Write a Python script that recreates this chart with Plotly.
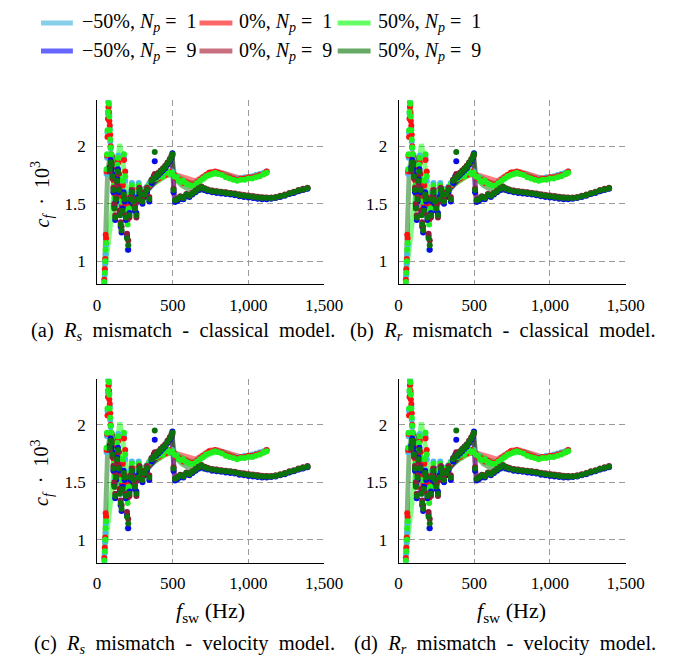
import plotly.graph_objects as go

# ---------------- data ----------------
# dots, N_p = 1 (upper branch)
x_np1 = [48, 51, 54, 57, 60, 63, 66, 69, 72, 75, 78, 81, 84, 87, 90, 94, 98,
         104, 110, 116, 122, 128, 134, 140, 146, 152, 158, 164, 170, 178, 186, 194, 202, 210, 220, 230, 240, 250, 262, 275, 288, 300,
         315, 330, 345, 360, 375, 390, 405, 420, 435, 450, 465, 480, 495,
         510, 525, 540, 555, 570, 585, 600, 620, 640, 660, 680, 700, 720, 740, 760, 780, 800, 825, 850, 875, 900, 925, 950, 975, 1000, 1025, 1050, 1075, 1100, 1120]
y_m50_np1 = [0.80, 0.88, 0.98, 1.06, 1.14, 1.76, 1.90, 2.12, 2.28, 2.39, 2.35, 2.28, 2.16, 2.04, 1.98, 1.90, 1.86,
             1.76, 1.64, 1.52, 1.50, 1.64, 1.82, 1.92, 1.70, 1.50, 1.40, 1.54, 1.68, 1.90, 1.70, 1.40, 1.10, 1.44, 1.60, 1.68, 1.54, 1.52, 1.62, 1.68, 1.60, 1.62,
             1.63, 1.65, 1.68, 1.71, 1.73, 1.73, 1.74, 1.75, 1.75, 1.76, 1.77, 1.77, 1.78,
             1.75, 1.74, 1.71, 1.70, 1.69, 1.68, 1.68, 1.67, 1.67, 1.69, 1.71, 1.73, 1.75, 1.76, 1.77, 1.77, 1.77, 1.76, 1.74, 1.73, 1.72, 1.72, 1.72, 1.73, 1.73, 1.74, 1.75, 1.76, 1.77, 1.78]
y_0_np1 = [0.84, 0.93, 1.02, 1.23, 1.20, 1.78, 1.92, 2.08, 2.24, 2.34, 2.30, 2.22, 2.18, 2.10, 2.00, 1.92, 1.85,
           1.80, 1.70, 1.58, 1.46, 1.58, 1.80, 1.86, 1.76, 1.56, 1.45, 1.48, 1.66, 1.88, 1.78, 1.50, 1.36, 1.42, 1.55, 1.63, 1.58, 1.48, 1.56, 1.64, 1.60, 1.58,
           1.60, 1.63, 1.66, 1.69, 1.72, 1.74, 1.72, 1.75, 1.76, 1.75, 1.77, 1.78, 1.76,
           1.75, 1.72, 1.71, 1.70, 1.68, 1.69, 1.68, 1.67, 1.67, 1.69, 1.71, 1.73, 1.75, 1.77, 1.77, 1.78, 1.77, 1.76, 1.74, 1.73, 1.72, 1.71, 1.72, 1.72, 1.73, 1.73, 1.74, 1.75, 1.76, 1.78]
y_p50_np1 = [0.82, 0.90, 1.00, 1.10, 1.16, 1.80, 1.93, 2.14, 2.30, 2.38, 2.37, 2.26, 2.14, 2.06, 1.99, 1.93, 1.88,
             1.78, 1.66, 1.55, 1.48, 1.62, 1.84, 1.90, 1.72, 1.52, 1.42, 1.52, 1.70, 1.93, 1.74, 1.44, 1.32, 1.46, 1.58, 1.66, 1.56, 1.50, 1.60, 1.66, 1.62, 1.60,
             1.62, 1.64, 1.67, 1.70, 1.74, 1.72, 1.73, 1.76, 1.74, 1.77, 1.78, 1.76, 1.77,
             1.74, 1.73, 1.70, 1.69, 1.70, 1.68, 1.67, 1.66, 1.66, 1.68, 1.70, 1.72, 1.74, 1.75, 1.76, 1.77, 1.76, 1.75, 1.73, 1.72, 1.71, 1.70, 1.71, 1.71, 1.72, 1.72, 1.73, 1.74, 1.76, 1.77]

# dots, N_p = 9 (lower branch)
x_np9 = [84, 90, 96, 102, 108, 114, 120, 126, 132, 138, 144, 150, 156, 162, 168, 175, 182, 190, 198, 206, 214, 222, 230, 240, 250, 260, 270, 280, 290, 300,
         315, 330, 345, 360, 375, 381, 390, 405, 420, 435, 450, 465, 480, 492, 498,
         505, 515, 530, 550, 570, 590, 610, 630, 650, 670, 690, 710, 730, 760, 790, 820, 850, 880, 910, 940, 970, 1000, 1030, 1060, 1090, 1120, 1150, 1180, 1210, 1240, 1270, 1300, 1330, 1360, 1390]
y_m50_np9 = [1.82, 1.88, 1.80, 1.76, 1.60, 1.48, 1.36, 1.52, 1.72, 1.80, 1.60, 1.42, 1.30, 1.25, 1.46, 1.60, 1.52, 1.36, 1.22, 1.10, 1.42, 1.52, 1.58, 1.50, 1.44, 1.42, 1.56, 1.60, 1.56, 1.50,
             1.56, 1.60, 1.52, 1.68, 1.74, 1.87, 1.73, 1.75, 1.77, 1.79, 1.81, 1.84, 1.87, 1.90, 1.94,
             1.60, 1.515, 1.525, 1.545, 1.54, 1.57, 1.56, 1.58, 1.60, 1.62, 1.635, 1.62, 1.61, 1.60, 1.595, 1.59, 1.585, 1.58, 1.575, 1.565, 1.56, 1.555, 1.55, 1.545, 1.54, 1.54, 1.545, 1.55, 1.56, 1.57, 1.585, 1.595, 1.61, 1.62, 1.63]
y_0_np9 = [1.78, 1.84, 1.86, 1.72, 1.64, 1.50, 1.40, 1.56, 1.68, 1.76, 1.64, 1.44, 1.34, 1.30, 1.42, 1.56, 1.56, 1.40, 1.24, 1.18, 1.38, 1.56, 1.62, 1.54, 1.48, 1.38, 1.52, 1.64, 1.60, 1.54,
           1.60, 1.64, 1.56, 1.71, 1.73, 1.76, 1.75, 1.77, 1.79, 1.81, 1.83, 1.86, 1.89, 1.92, 1.92,
           1.63, 1.535, 1.545, 1.565, 1.56, 1.585, 1.575, 1.595, 1.615, 1.635, 1.65, 1.635, 1.625, 1.615, 1.61, 1.605, 1.60, 1.595, 1.59, 1.58, 1.575, 1.57, 1.565, 1.56, 1.555, 1.555, 1.555, 1.56, 1.57, 1.58, 1.595, 1.605, 1.62, 1.63, 1.64]
y_p50_np9 = [1.80, 1.86, 1.84, 1.74, 1.62, 1.46, 1.38, 1.54, 1.70, 1.78, 1.62, 1.40, 1.32, 1.27, 1.44, 1.58, 1.54, 1.38, 1.20, 1.14, 1.40, 1.54, 1.60, 1.52, 1.46, 1.40, 1.54, 1.62, 1.58, 1.52,
             1.58, 1.62, 1.54, 1.70, 1.72, 1.95, 1.74, 1.76, 1.78, 1.80, 1.82, 1.85, 1.88, 1.91, 1.93,
             1.62, 1.53, 1.54, 1.56, 1.55, 1.58, 1.57, 1.59, 1.61, 1.63, 1.645, 1.63, 1.62, 1.61, 1.605, 1.60, 1.595, 1.59, 1.585, 1.575, 1.57, 1.565, 1.56, 1.555, 1.55, 1.55, 1.55, 1.555, 1.565, 1.575, 1.59, 1.60, 1.615, 1.625, 1.635]

# smoothed (translucent) lines
xl_np1 = [45, 50, 55, 60, 65, 70, 80, 95, 110, 130, 150, 175, 200, 230, 260, 300, 350, 400, 450, 500, 550, 600, 650, 700, 750, 800, 850, 900, 950, 1000, 1050, 1100, 1125]
yl_m50_np1 = [None, None, None, None, None, None, 1.95, 1.92, 1.80, 1.66, 1.60, 1.62, 1.55, 1.52, 1.55, 1.60, 1.66, 1.71, 1.75, 1.76, 1.73, 1.69, 1.68, 1.72, 1.76, 1.77, 1.76, 1.73, 1.72, 1.73, 1.74, 1.76, 1.78]
yl_0_np1 = [None, None, None, None, None, None, 1.96, 1.94, 1.83, 1.68, 1.60, 1.60, 1.53, 1.50, 1.54, 1.59, 1.65, 1.70, 1.74, 1.76, 1.74, 1.71, 1.70, 1.74, 1.78, 1.78, 1.76, 1.73, 1.72, 1.73, 1.74, 1.76, 1.77]
yl_p50_np1 = [0.83, 0.89, 0.94, 1.00, 1.06, 1.11, 1.23, 1.40, 1.57, 1.79, 2.02, 1.82, 1.58, 1.50, 1.53, 1.58, 1.65, 1.70, 1.74, 1.76, 1.72, 1.68, 1.67, 1.71, 1.75, 1.76, 1.75, 1.72, 1.71, 1.72, 1.73, 1.75, 1.77]
xl_np9 = [48, 55, 62, 70, 85, 100, 120, 140, 160, 180, 200, 230, 260, 300, 350, 400, 450, 495, 510, 530, 560, 600, 650, 700, 750, 800, 850, 900, 950, 1000, 1050, 1100, 1150, 1200, 1250, 1300, 1350, 1390]
yl_m50_np9 = [None, None, None, None, 1.85, 1.90, 1.75, 1.62, 1.50, 1.46, 1.45, 1.47, 1.50, 1.56, 1.64, 1.72, 1.80, 1.90, 1.56, 1.53, 1.54, 1.57, 1.60, 1.63, 1.61, 1.60, 1.595, 1.59, 1.575, 1.565, 1.555, 1.545, 1.545, 1.555, 1.575, 1.595, 1.615, 1.63]
yl_0_np9 = [None, None, None, None, 1.87, 1.92, 1.78, 1.64, 1.52, 1.47, 1.46, 1.48, 1.51, 1.57, 1.65, 1.73, 1.81, 1.91, 1.58, 1.54, 1.55, 1.58, 1.61, 1.64, 1.62, 1.61, 1.60, 1.595, 1.58, 1.57, 1.56, 1.55, 1.55, 1.56, 1.58, 1.60, 1.62, 1.635]
yl_p50_np9 = [0.85, 1.10, 1.45, 1.78, 1.90, 1.93, 1.86, 1.72, 1.58, 1.50, 1.47, 1.48, 1.51, 1.57, 1.65, 1.73, 1.81, 1.91, 1.75, 1.70, 1.66, 1.63, 1.62, 1.62, 1.61, 1.60, 1.60, 1.595, 1.58, 1.57, 1.56, 1.55, 1.55, 1.56, 1.58, 1.60, 1.62, 1.635]

NB = "&nbsp;"
series_labels = ["−50%," + NB + "<i>N<sub>p</sub></i>" + NB + "=" + NB + NB + "1",
                 "0%," + NB + "<i>N<sub>p</sub></i>" + NB + "=" + NB + NB + "1",
                 "50%," + NB + "<i>N<sub>p</sub></i>" + NB + "=" + NB + NB + "1",
                 "−50%," + NB + "<i>N<sub>p</sub></i>" + NB + "=" + NB + NB + "9",
                 "0%," + NB + "<i>N<sub>p</sub></i>" + NB + "=" + NB + NB + "9",
                 "50%," + NB + "<i>N<sub>p</sub></i>" + NB + "=" + NB + NB + "9"]
x_ticks = [0, 500, 1000, 1500]
x_ticktext = ["0", "500", "1,000", "1,500"]
y_ticks = [1, 1.5, 2]
y_ticktext = ["1", "1.5", "2"]
G = NB + NB
captions = ["(a)" + G + "<i>R<sub>s</sub></i>" + G + "mismatch" + G + "-" + G + "classical" + G + "model.",
            "(b)" + G + "<i>R<sub>r</sub></i>" + G + "mismatch" + G + "-" + G + "classical" + G + "model.",
            "(c)" + G + "<i>R<sub>s</sub></i>" + G + "mismatch" + G + "-" + G + "velocity" + G + "model.",
            "(d)" + G + "<i>R<sub>r</sub></i>" + G + "mismatch" + G + "-" + G + "velocity" + G + "model."]

# ---------------- styling ----------------
W, H = 686, 658
FONT = "Liberation Serif, Times New Roman, DejaVu Serif, serif"
line_colors = ["#37ADDE", "#FF0000", "#00FF00", "#0000FF", "#A30D26", "#007100"]
dot_colors = ["#4DB8EA", "#FF1010", "#1EF01E", "#0A0AE6", "#8E1A3C", "#0B720B"]
legend_colors = ["#87CEEB", "#FF6666", "#66FF66", "#6666FF", "#C87080", "#66AA66"]

lines = [(xl_np1, yl_m50_np1), (xl_np1, yl_0_np1), (xl_np1, yl_p50_np1),
         (xl_np9, yl_m50_np9), (xl_np9, yl_0_np9), (xl_np9, yl_p50_np9)]
dots = [(x_np1, y_m50_np1), (x_np1, y_0_np1), (x_np1, y_p50_np1),
        (x_np9, y_m50_np9), (x_np9, y_0_np9), (x_np9, y_p50_np9)]

def fx(p):
    return p / W

def fy(p):
    return 1 - p / H

# panel pixel boxes: (left, right, top, bottom)
boxes = [(88, 323, 92.3, 276.3), (400, 635, 92.3, 276.3),
         (88, 323, 370.7, 554.7), (400, 635, 370.7, 554.7)]

fig = go.Figure()
layout = dict(width=W, height=H, margin=dict(l=0, r=0, t=0, b=0),
              paper_bgcolor="white", plot_bgcolor="white", showlegend=False,
              font=dict(family=FONT, color="black"))

for i, (l, r, t, b) in enumerate(boxes):
    n = "" if i == 0 else str(i + 1)
    xa, ya = "x" + n, "y" + n
    layout["xaxis" + n] = dict(domain=[fx(l), fx(r)], range=[0, 1500], anchor=ya,
                               showline=True, linecolor="black", linewidth=1, mirror=False,
                               tickvals=x_ticks, ticktext=x_ticktext, ticks="",
                               showgrid=True, gridcolor="#9a9a9a", gridwidth=1, griddash="6px,4px",
                               zeroline=False, tickfont=dict(size=17, family=FONT),
                               ticklabelstandoff=5)
    layout["yaxis" + n] = dict(domain=[fy(b), fy(t)], range=[0.8, 2.4], anchor=xa,
                               showline=True, linecolor="black", linewidth=1, mirror=False,
                               tickvals=y_ticks, ticktext=y_ticktext, ticks="",
                               showgrid=True, gridcolor="#9a9a9a", gridwidth=1, griddash="6px,4px",
                               zeroline=False, tickfont=dict(size=17, family=FONT),
                               ticklabelstandoff=7)
    for k, (lx, ly) in enumerate(lines):
        fig.add_trace(go.Scatter(x=lx, y=ly, mode="lines", xaxis=xa, yaxis=ya,
                                 line=dict(color=line_colors[k], width=5),
                                 opacity=0.5, hoverinfo="skip"))
    for k, (dx, dy) in enumerate(dots):
        fig.add_trace(go.Scatter(x=dx, y=dy, mode="markers", xaxis=xa, yaxis=ya,
                                 marker=dict(color=dot_colors[k], size=6, line=dict(width=0)),
                                 hoverinfo="skip"))

annotations = []
shapes = []
# manual legend
leg_cols = [(30, 63, 70), (194, 228, 233), (337, 371, 377)]
leg_rows = [15, 43]
for k in range(6):
    row = k // 3
    col = k % 3
    x0, x1, xt = leg_cols[col]
    yy = leg_rows[row]
    shapes.append(dict(type="line", xref="paper", yref="paper", x0=fx(x0), x1=fx(x1), y0=fy(yy), y1=fy(yy),
                       line=dict(color=legend_colors[k], width=5)))
    annotations.append(dict(xref="paper", yref="paper", x=fx(xt), y=fy(yy), xanchor="left", yanchor="middle",
                            text=series_labels[k], showarrow=False, font=dict(size=20, family=FONT)))

# y-axis titles (left panels)
for yc in [186.5, 465]:
    annotations.append(dict(xref="paper", yref="paper", x=fx(31), y=fy(yc), xanchor="center", yanchor="middle",
                            text="<i>c<sub>f</sub></i>" + NB + NB + "·" + NB + NB + "10<sup>3</sup>", textangle=-90, showarrow=False,
                            font=dict(size=20, family=FONT)))
# x-axis titles (bottom panels)
for xc in [205, 517]:
    annotations.append(dict(xref="paper", yref="paper", x=fx(xc), y=fy(604), xanchor="center", yanchor="middle",
                            text="<i>f</i><sub>sw</sub>" + NB + "(Hz)", showarrow=False, font=dict(size=22, family=FONT)))
# captions
cap_pos = [(177, 323), (508, 323), (178, 636), (510, 636)]
for c, (cx, cy) in zip(captions, cap_pos):
    annotations.append(dict(xref="paper", yref="paper", x=fx(cx), y=fy(cy), xanchor="center", yanchor="middle",
                            text=c, showarrow=False, font=dict(size=20.5, family=FONT)))

layout["annotations"] = annotations
layout["shapes"] = shapes
fig.update_layout(**layout)
fig.write_html("out.html")
